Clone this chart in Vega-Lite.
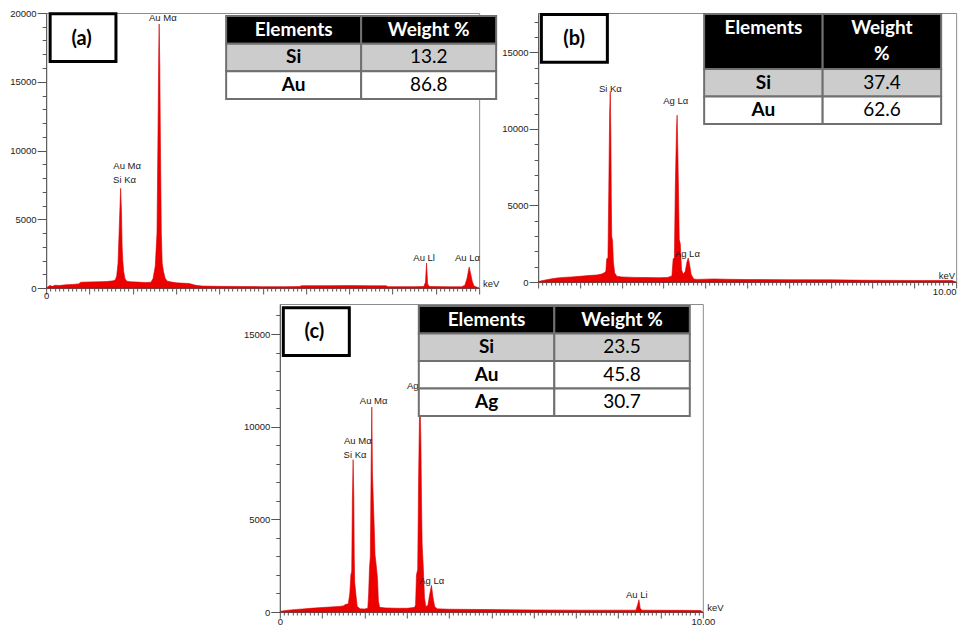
{
  "$schema": "https://vega.github.io/schema/vega-lite/v6.json",
  "background": "white",
  "padding": {"left": 9, "top": 7, "right": 0, "bottom": 0},
  "config": {
    "view": {"stroke": "#8c8c8c", "strokeWidth": 1},
    "axis": {"grid": false, "title": null, "domainColor": "#555555", "tickColor": "#555555", "labelFont": "Liberation Sans", "labelFontSize": 9.5, "labelColor": "#222222", "labelOverlap": false, "labelFlush": false}
  },
  "datasets": {
    "specA": [
      {"keV":0,"counts":0},{"keV":0.03,"counts":60},{"keV":0.08,"counts":180},{"keV":0.15,"counts":120},{"keV":0.2,"counts":200},{"keV":0.3,"counts":180},{"keV":0.45,"counts":230},{"keV":0.6,"counts":260},{"keV":0.75,"counts":300},{"keV":0.8,"counts":420},{"keV":1.0,"counts":440},{"keV":1.2,"counts":450},{"keV":1.4,"counts":470},{"keV":1.55,"counts":520},{"keV":1.6,"counts":600},{"keV":1.63,"counts":900},{"keV":1.66,"counts":1800},{"keV":1.69,"counts":4500},{"keV":1.72,"counts":7250},{"keV":1.74,"counts":5500},{"keV":1.755,"counts":3000},{"keV":1.77,"counts":2000},{"keV":1.79,"counts":1200},{"keV":1.82,"counts":700},{"keV":1.86,"counts":500},{"keV":1.95,"counts":450},{"keV":2.1,"counts":430},{"keV":2.3,"counts":400},{"keV":2.42,"counts":420},{"keV":2.47,"counts":700},{"keV":2.52,"counts":1600},{"keV":2.56,"counts":4000},{"keV":2.58,"counts":10300},{"keV":2.6,"counts":17150},{"keV":2.61,"counts":19200},{"keV":2.625,"counts":16000},{"keV":2.64,"counts":10300},{"keV":2.66,"counts":4000},{"keV":2.68,"counts":1800},{"keV":2.71,"counts":1200},{"keV":2.75,"counts":700},{"keV":2.8,"counts":500},{"keV":2.9,"counts":430},{"keV":3.0,"counts":380},{"keV":3.1,"counts":360},{"keV":3.3,"counts":330},{"keV":3.45,"counts":200},{"keV":3.6,"counts":140},{"keV":4.0,"counts":120},{"keV":4.5,"counts":110},{"keV":5.0,"counts":100},{"keV":5.5,"counts":100},{"keV":5.85,"counts":110},{"keV":5.9,"counts":170},{"keV":6.5,"counts":170},{"keV":7.0,"counts":175},{"keV":7.5,"counts":165},{"keV":7.85,"counts":160},{"keV":7.9,"counts":100},{"keV":8.5,"counts":100},{"keV":8.72,"counts":110},{"keV":8.76,"counts":400},{"keV":8.785,"counts":1820},{"keV":8.81,"counts":300},{"keV":8.85,"counts":110},{"keV":9.3,"counts":90},{"keV":9.6,"counts":90},{"keV":9.67,"counts":200},{"keV":9.72,"counts":700},{"keV":9.77,"counts":1530},{"keV":9.8,"counts":1100},{"keV":9.84,"counts":500},{"keV":9.88,"counts":150},{"keV":9.95,"counts":60},{"keV":10,"counts":0}
    ],
    "specB": [
      {"keV":0,"counts":0},{"keV":0.05,"counts":60},{"keV":0.15,"counts":120},{"keV":0.3,"counts":200},{"keV":0.45,"counts":260},{"keV":0.6,"counts":300},{"keV":0.8,"counts":330},{"keV":1.0,"counts":370},{"keV":1.2,"counts":420},{"keV":1.4,"counts":460},{"keV":1.52,"counts":520},{"keV":1.58,"counts":600},{"keV":1.62,"counts":700},{"keV":1.64,"counts":1500},{"keV":1.67,"counts":1600},{"keV":1.69,"counts":6000},{"keV":1.71,"counts":11000},{"keV":1.725,"counts":12460},{"keV":1.74,"counts":9500},{"keV":1.75,"counts":5500},{"keV":1.76,"counts":3000},{"keV":1.78,"counts":2700},{"keV":1.8,"counts":1300},{"keV":1.83,"counts":600},{"keV":1.88,"counts":380},{"keV":2.0,"counts":330},{"keV":2.3,"counts":300},{"keV":2.6,"counts":290},{"keV":2.9,"counts":280},{"keV":3.1,"counts":300},{"keV":3.2,"counts":400},{"keV":3.23,"counts":1500},{"keV":3.26,"counts":1600},{"keV":3.28,"counts":6000},{"keV":3.31,"counts":10000},{"keV":3.325,"counts":10900},{"keV":3.345,"counts":8000},{"keV":3.36,"counts":5500},{"keV":3.375,"counts":2800},{"keV":3.4,"counts":2500},{"keV":3.43,"counts":800},{"keV":3.47,"counts":500},{"keV":3.52,"counts":700},{"keV":3.56,"counts":1300},{"keV":3.59,"counts":1570},{"keV":3.62,"counts":1200},{"keV":3.66,"counts":500},{"keV":3.72,"counts":200},{"keV":3.8,"counts":170},{"keV":4.2,"counts":200},{"keV":4.5,"counts":180},{"keV":5.0,"counts":160},{"keV":6.0,"counts":150},{"keV":7.0,"counts":140},{"keV":8.0,"counts":110},{"keV":9.0,"counts":100},{"keV":9.9,"counts":100},{"keV":10,"counts":0}
    ],
    "specC": [
      {"keV":0,"counts":0},{"keV":0.05,"counts":50},{"keV":0.2,"counts":100},{"keV":0.4,"counts":140},{"keV":0.6,"counts":170},{"keV":0.8,"counts":210},{"keV":1.0,"counts":240},{"keV":1.2,"counts":270},{"keV":1.4,"counts":300},{"keV":1.5,"counts":330},{"keV":1.55,"counts":400},{"keV":1.62,"counts":450},{"keV":1.655,"counts":1000},{"keV":1.68,"counts":2000},{"keV":1.7,"counts":2200},{"keV":1.715,"counts":6000},{"keV":1.733,"counts":8220},{"keV":1.75,"counts":6150},{"keV":1.76,"counts":3000},{"keV":1.77,"counts":1620},{"keV":1.8,"counts":900},{"keV":1.83,"counts":300},{"keV":1.9,"counts":170},{"keV":2.0,"counts":160},{"keV":2.08,"counts":200},{"keV":2.1,"counts":1000},{"keV":2.12,"counts":2370},{"keV":2.14,"counts":3000},{"keV":2.16,"counts":8000},{"keV":2.175,"counts":11060},{"keV":2.19,"counts":7500},{"keV":2.21,"counts":6060},{"keV":2.24,"counts":4000},{"keV":2.25,"counts":3090},{"keV":2.28,"counts":2500},{"keV":2.31,"counts":1800},{"keV":2.33,"counts":600},{"keV":2.36,"counts":250},{"keV":2.5,"counts":220},{"keV":2.8,"counts":200},{"keV":3.0,"counts":200},{"keV":3.12,"counts":230},{"keV":3.19,"counts":250},{"keV":3.21,"counts":400},{"keV":3.23,"counts":2000},{"keV":3.26,"counts":2300},{"keV":3.28,"counts":7000},{"keV":3.31,"counts":11920},{"keV":3.335,"counts":9220},{"keV":3.35,"counts":6000},{"keV":3.365,"counts":3630},{"keV":3.39,"counts":2500},{"keV":3.42,"counts":800},{"keV":3.45,"counts":300},{"keV":3.5,"counts":350},{"keV":3.54,"counts":900},{"keV":3.585,"counts":1440},{"keV":3.62,"counts":800},{"keV":3.66,"counts":300},{"keV":3.72,"counts":170},{"keV":4.0,"counts":150},{"keV":5.0,"counts":130},{"keV":6.0,"counts":110},{"keV":7.0,"counts":100},{"keV":8.0,"counts":100},{"keV":8.42,"counts":100},{"keV":8.46,"counts":400},{"keV":8.49,"counts":660},{"keV":8.52,"counts":200},{"keV":8.56,"counts":100},{"keV":9.5,"counts":90},{"keV":9.95,"counts":80},{"keV":10,"counts":0}
    ],
    "lblA": [
      {"keV":2.695,"counts":19615,"text":"Au Mα"},
      {"keV":1.87,"counts":8850,"text":"Au Mα"},
      {"keV":1.81,"counts":7877,"text":"Si Kα"},
      {"keV":8.73,"counts":2182,"text":"Au Ll"},
      {"keV":9.73,"counts":2160,"text":"Au Lα"},
      {"keV":10.28,"counts":290,"text":"keV"}
    ],
    "lblB": [
      {"keV":1.727,"counts":12614,"text":"Si Kα"},
      {"keV":3.29,"counts":11850,"text":"Ag Lα"},
      {"keV":3.57,"counts":1830,"text":"Ag Lα"},
      {"keV":9.78,"counts":420,"text":"keV"}
    ],
    "lblC": [
      {"keV":2.218,"counts":11402,"text":"Au Mα"},
      {"keV":1.844,"counts":9211,"text":"Au Mα"},
      {"keV":1.778,"counts":8488,"text":"Si Kα"},
      {"keV":3.3,"counts":12179,"text":"Ag Lα"},
      {"keV":3.59,"counts":1657,"text":"Ag Lα"},
      {"keV":8.44,"counts":934,"text":"Au Li"},
      {"keV":10.3,"counts":216,"text":"keV"}
    ],
    "tabA": [
      {"col":0,"row":0,"span":1,"part":"head","text":"Elements"},
      {"col":1,"row":0,"span":1,"part":"head","text":"Weight %"},
      {"col":0,"row":1,"span":1,"part":"shaded","text":"Si"},
      {"col":1,"row":1,"span":1,"part":"shaded","text":"13.2"},
      {"col":0,"row":2,"span":1,"part":"plain","text":"Au"},
      {"col":1,"row":2,"span":1,"part":"plain","text":"86.8"}
    ],
    "tabB": [
      {"col":0,"row":0,"span":2,"part":"head","text":"Elements"},
      {"col":1,"row":0,"span":2,"part":"head","text":"Weight\n%"},
      {"col":0,"row":2,"span":1,"part":"shaded","text":"Si"},
      {"col":1,"row":2,"span":1,"part":"shaded","text":"37.4"},
      {"col":0,"row":3,"span":1,"part":"plain","text":"Au"},
      {"col":1,"row":3,"span":1,"part":"plain","text":"62.6"}
    ],
    "tabC": [
      {"col":0,"row":0,"span":1,"part":"head","text":"Elements"},
      {"col":1,"row":0,"span":1,"part":"head","text":"Weight %"},
      {"col":0,"row":1,"span":1,"part":"shaded","text":"Si"},
      {"col":1,"row":1,"span":1,"part":"shaded","text":"23.5"},
      {"col":0,"row":2,"span":1,"part":"plain","text":"Au"},
      {"col":1,"row":2,"span":1,"part":"plain","text":"45.8"},
      {"col":0,"row":3,"span":1,"part":"plain","text":"Ag"},
      {"col":1,"row":3,"span":1,"part":"plain","text":"30.7"}
    ]
  },
  "spacing": 3,
  "center": true,
  "vconcat": [
    {
      "spacing": 1,
      "hconcat": [
        {
          "width": 433, "height": 275,
          "layer": [
            {
              "layer": [
                {
                  "data": {"name": "specA"},
                  "mark": {"type": "area", "color": "#ec0000", "stroke": "#d60000", "strokeWidth": 0.6},
                  "encoding": {
                    "x": {"field": "keV", "type": "quantitative", "scale": {"domain": [0, 10], "nice": false, "zero": false},
                      "axis": {"tickCount": 100, "labelExpr": "datum.value === 0 ? '0' : ''", "labelPadding": -4, "tickSize": {"condition": {"test": "abs(datum.value - round(datum.value)) < 0.01", "value": 6}, "value": 3}}},
                    "y": {"field": "counts", "type": "quantitative", "scale": {"domain": [0, 20000], "nice": false, "zero": false},
                      "axis": {"tickCount": 20, "labelExpr": "datum.value % 5000 === 0 ? '' + datum.value : ''", "labelPadding": 1, "tickSize": {"condition": {"test": "datum.value % 5000 === 0", "value": 9}, "value": 4}}}
                  }
                },
                {
                  "data": {"name": "lblA"},
                  "mark": {"type": "text", "font": "Liberation Sans", "fontSize": 9.5, "color": "#222222", "baseline": "middle"},
                  "encoding": {"x": {"field": "keV", "type": "quantitative"}, "y": {"field": "counts", "type": "quantitative"}, "text": {"field": "text"}}
                },
                {
                  "data": {"values": [{"panel": "(a)"}]},
                  "mark": {"type": "rect", "fill": "white", "stroke": "black", "strokeWidth": 3},
                  "encoding": {"x": {"datum": 0.092, "type": "quantitative"}, "x2": {"datum": 1.612}, "y": {"datum": 19940, "type": "quantitative"}, "y2": {"datum": 16473}}
                },
                {
                  "data": {"values": [{"panel": "(a)"}]},
                  "mark": {"type": "text", "font": "Lato", "fontWeight": "bold", "fontSize": 20, "color": "black", "baseline": "middle"},
                  "encoding": {"x": {"datum": 0.82, "type": "quantitative"}, "y": {"datum": 18131, "type": "quantitative"}, "text": {"field": "panel"}}
                }
              ]
            },
            {
              "data": {"name": "tabA"},
              "transform": [
                {"calculate": "datum.col", "as": "x0"}, {"calculate": "datum.col + 1", "as": "x1"},
                {"calculate": "datum.row", "as": "y0"}, {"calculate": "datum.row + datum.span", "as": "y1"},
                {"calculate": "datum.col + 0.5", "as": "xc"}, {"calculate": "datum.row + 0.5", "as": "yc"}
              ],
              "layer": [
                {
                  "mark": {"type": "rect", "stroke": "#707070", "strokeWidth": 2},
                  "encoding": {
                    "x": {"field": "x0", "type": "quantitative", "scale": {"domain": [-1.3333, 1.8741], "nice": false, "zero": false}, "axis": null},
                    "x2": {"field": "x1"},
                    "y": {"field": "y0", "type": "quantitative", "scale": {"domain": [-0.1084, 9.8313], "nice": false, "zero": false, "reverse": true}, "axis": null},
                    "y2": {"field": "y1"},
                    "fill": {"field": "part", "type": "nominal", "scale": {"domain": ["head", "shaded", "plain"], "range": ["#000000", "#cccccc", "#ffffff"]}, "legend": null}
                  }
                },
                {
                  "transform": [{"filter": "datum.part === 'head' || datum.col === 0"}],
                  "mark": {"type": "text", "font": "Lato", "fontWeight": "bold", "fontSize": 19, "baseline": "middle", "lineBreak": "\n", "lineHeight": 26},
                  "encoding": {
                    "x": {"field": "xc", "type": "quantitative", "scale": {"domain": [-1.3333, 1.8741], "nice": false, "zero": false}, "axis": null},
                    "y": {"field": "yc", "type": "quantitative", "scale": {"domain": [-0.1084, 9.8313], "nice": false, "zero": false, "reverse": true}, "axis": null},
                    "text": {"field": "text"},
                    "color": {"condition": {"test": "datum.part === 'head'", "value": "white"}, "value": "black"}
                  }
                },
                {
                  "transform": [{"filter": "datum.part !== 'head' && datum.col === 1"}],
                  "mark": {"type": "text", "font": "Lato", "fontSize": 19, "baseline": "middle", "color": "black"},
                  "encoding": {
                    "x": {"field": "xc", "type": "quantitative", "scale": {"domain": [-1.3333, 1.8741], "nice": false, "zero": false}, "axis": null},
                    "y": {"field": "yc", "type": "quantitative", "scale": {"domain": [-0.1084, 9.8313], "nice": false, "zero": false, "reverse": true}, "axis": null},
                    "text": {"field": "text"}
                  }
                }
              ]
            }
          ],
          "resolve": {"scale": {"x": "independent", "y": "independent"}}
        },
        {
          "width": 418, "height": 269,
          "layer": [
            {
              "layer": [
                {
                  "data": {"name": "specB"},
                  "mark": {"type": "area", "color": "#ec0000", "stroke": "#d60000", "strokeWidth": 0.6},
                  "encoding": {
                    "x": {"field": "keV", "type": "quantitative", "scale": {"domain": [0, 10], "nice": false, "zero": false},
                      "axis": {"tickCount": 100, "labelExpr": "datum.value === 10 ? '10.00' : ''", "labelPadding": -2, "labelFlush": true, "tickSize": {"condition": {"test": "abs(datum.value - round(datum.value)) < 0.01", "value": 6}, "value": 3}}},
                    "y": {"field": "counts", "type": "quantitative", "scale": {"domain": [0, 17580], "nice": false, "zero": false},
                      "axis": {"tickCount": 18, "labelExpr": "datum.value % 5000 === 0 ? '' + datum.value : ''", "labelPadding": 1, "tickSize": {"condition": {"test": "datum.value % 5000 === 0", "value": 9}, "value": 4}}}
                  }
                },
                {
                  "data": {"name": "lblB"},
                  "mark": {"type": "text", "font": "Liberation Sans", "fontSize": 9.5, "color": "#222222", "baseline": "middle"},
                  "encoding": {"x": {"field": "keV", "type": "quantitative"}, "y": {"field": "counts", "type": "quantitative"}, "text": {"field": "text"}}
                },
                {
                  "data": {"values": [{"panel": "(b)"}]},
                  "mark": {"type": "rect", "fill": "white", "stroke": "black", "strokeWidth": 3},
                  "encoding": {"x": {"datum": 0.077, "type": "quantitative"}, "x2": {"datum": 1.656}, "y": {"datum": 17482, "type": "quantitative"}, "y2": {"datum": 14365}}
                },
                {
                  "data": {"values": [{"panel": "(b)"}]},
                  "mark": {"type": "text", "font": "Lato", "fontWeight": "bold", "fontSize": 20, "color": "black", "baseline": "middle"},
                  "encoding": {"x": {"datum": 0.861, "type": "quantitative"}, "y": {"datum": 15881, "type": "quantitative"}, "text": {"field": "panel"}}
                }
              ]
            },
            {
              "data": {"name": "tabB"},
              "transform": [
                {"calculate": "datum.col", "as": "x0"}, {"calculate": "datum.col + 1", "as": "x1"},
                {"calculate": "datum.row", "as": "y0"}, {"calculate": "datum.row + datum.span", "as": "y1"},
                {"calculate": "datum.col + 0.5", "as": "xc"}, {"calculate": "datum.row + 0.5", "as": "yc"}
              ],
              "layer": [
                {
                  "mark": {"type": "rect", "stroke": "#707070", "strokeWidth": 2},
                  "encoding": {
                    "x": {"field": "x0", "type": "quantitative", "scale": {"domain": [-1.4008, 2.1266], "nice": false, "zero": false}, "axis": null},
                    "x2": {"field": "x1"},
                    "y": {"field": "y0", "type": "quantitative", "scale": {"domain": [-0.0364, 9.7455], "nice": false, "zero": false, "reverse": true}, "axis": null},
                    "y2": {"field": "y1"},
                    "fill": {"field": "part", "type": "nominal", "scale": {"domain": ["head", "shaded", "plain"], "range": ["#000000", "#cccccc", "#ffffff"]}, "legend": null}
                  }
                },
                {
                  "transform": [{"filter": "datum.part === 'head' || datum.col === 0"}],
                  "mark": {"type": "text", "font": "Lato", "fontWeight": "bold", "fontSize": 19, "baseline": "middle", "lineBreak": "\n", "lineHeight": 26},
                  "encoding": {
                    "x": {"field": "xc", "type": "quantitative", "scale": {"domain": [-1.4008, 2.1266], "nice": false, "zero": false}, "axis": null},
                    "y": {"field": "yc", "type": "quantitative", "scale": {"domain": [-0.0364, 9.7455], "nice": false, "zero": false, "reverse": true}, "axis": null},
                    "text": {"field": "text"},
                    "color": {"condition": {"test": "datum.part === 'head'", "value": "white"}, "value": "black"}
                  }
                },
                {
                  "transform": [{"filter": "datum.part !== 'head' && datum.col === 1"}],
                  "mark": {"type": "text", "font": "Lato", "fontSize": 19, "baseline": "middle", "color": "black"},
                  "encoding": {
                    "x": {"field": "xc", "type": "quantitative", "scale": {"domain": [-1.4008, 2.1266], "nice": false, "zero": false}, "axis": null},
                    "y": {"field": "yc", "type": "quantitative", "scale": {"domain": [-0.0364, 9.7455], "nice": false, "zero": false, "reverse": true}, "axis": null},
                    "text": {"field": "text"}
                  }
                }
              ]
            }
          ],
          "resolve": {"scale": {"x": "independent", "y": "independent"}}
        }
      ]
    },
    {
      "width": 423, "height": 308,
      "layer": [
        {
          "layer": [
            {
              "data": {"name": "specC"},
              "mark": {"type": "area", "color": "#ec0000", "stroke": "#d60000", "strokeWidth": 0.6},
              "encoding": {
                "x": {"field": "keV", "type": "quantitative", "scale": {"domain": [0, 10], "nice": false, "zero": false},
                  "axis": {"tickCount": 100, "labelExpr": "datum.value === 0 ? '0' : (datum.value === 10 ? '10.00' : '')", "labelPadding": -2, "tickSize": {"condition": {"test": "abs(datum.value - round(datum.value)) < 0.01", "value": 6}, "value": 3}}},
                "y": {"field": "counts", "type": "quantitative", "scale": {"domain": [0, 16620], "nice": false, "zero": false},
                  "axis": {"tickCount": 17, "labelExpr": "datum.value % 5000 === 0 ? '' + datum.value : ''", "labelPadding": 1, "tickSize": {"condition": {"test": "datum.value % 5000 === 0", "value": 9}, "value": 4}}}
              }
            },
            {
              "data": {"name": "lblC"},
              "mark": {"type": "text", "font": "Liberation Sans", "fontSize": 9.5, "color": "#222222", "baseline": "middle"},
              "encoding": {"x": {"field": "keV", "type": "quantitative"}, "y": {"field": "counts", "type": "quantitative"}, "text": {"field": "text"}}
            },
            {
              "data": {"values": [{"panel": "(c)"}]},
              "mark": {"type": "rect", "fill": "white", "stroke": "black", "strokeWidth": 3},
              "encoding": {"x": {"datum": 0.083, "type": "quantitative"}, "x2": {"datum": 1.643}, "y": {"datum": 16415, "type": "quantitative"}, "y2": {"datum": 13841}}
            },
            {
              "data": {"values": [{"panel": "(c)"}]},
              "mark": {"type": "text", "font": "Lato", "fontWeight": "bold", "fontSize": 20, "color": "black", "baseline": "middle"},
              "encoding": {"x": {"datum": 0.816, "type": "quantitative"}, "y": {"datum": 15098, "type": "quantitative"}, "text": {"field": "panel"}}
            }
          ]
        },
        {
          "data": {"name": "tabC"},
          "transform": [
            {"calculate": "datum.col", "as": "x0"}, {"calculate": "datum.col + 1", "as": "x1"},
            {"calculate": "datum.row", "as": "y0"}, {"calculate": "datum.row + datum.span", "as": "y1"},
            {"calculate": "datum.col + 0.5", "as": "xc"}, {"calculate": "datum.row + 0.5", "as": "yc"}
          ],
          "layer": [
            {
              "mark": {"type": "rect", "stroke": "#707070", "strokeWidth": 2},
              "encoding": {
                "x": {"field": "x0", "type": "quantitative", "scale": {"domain": [-1.0258, 2.096], "nice": false, "zero": false}, "axis": null},
                "x2": {"field": "x1"},
                "y": {"field": "y0", "type": "quantitative", "scale": {"domain": [-0.0727, 11.1273], "nice": false, "zero": false, "reverse": true}, "axis": null},
                "y2": {"field": "y1"},
                "fill": {"field": "part", "type": "nominal", "scale": {"domain": ["head", "shaded", "plain"], "range": ["#000000", "#cccccc", "#ffffff"]}, "legend": null}
              }
            },
            {
              "transform": [{"filter": "datum.part === 'head' || datum.col === 0"}],
              "mark": {"type": "text", "font": "Lato", "fontWeight": "bold", "fontSize": 19, "baseline": "middle"},
              "encoding": {
                "x": {"field": "xc", "type": "quantitative", "scale": {"domain": [-1.0258, 2.096], "nice": false, "zero": false}, "axis": null},
                "y": {"field": "yc", "type": "quantitative", "scale": {"domain": [-0.0727, 11.1273], "nice": false, "zero": false, "reverse": true}, "axis": null},
                "text": {"field": "text"},
                "color": {"condition": {"test": "datum.part === 'head'", "value": "white"}, "value": "black"}
              }
            },
            {
              "transform": [{"filter": "datum.part !== 'head' && datum.col === 1"}],
              "mark": {"type": "text", "font": "Lato", "fontSize": 19, "baseline": "middle", "color": "black"},
              "encoding": {
                "x": {"field": "xc", "type": "quantitative", "scale": {"domain": [-1.0258, 2.096], "nice": false, "zero": false}, "axis": null},
                "y": {"field": "yc", "type": "quantitative", "scale": {"domain": [-0.0727, 11.1273], "nice": false, "zero": false, "reverse": true}, "axis": null},
                "text": {"field": "text"}
              }
            }
          ]
        }
      ],
      "resolve": {"scale": {"x": "independent", "y": "independent"}}
    }
  ]
}
